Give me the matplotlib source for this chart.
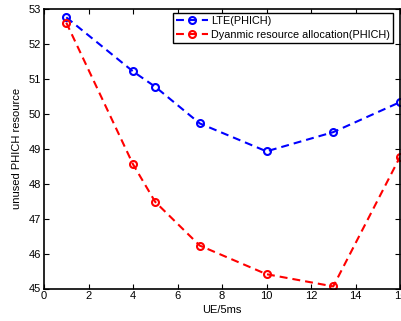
import matplotlib
matplotlib.use("Agg")
import matplotlib.pyplot as plt

x_ue = [1, 4, 5, 7, 10, 13, 16]
lte_phich = [52.77, 51.22, 50.78, 49.73, 48.93, 49.48, 50.34]
dyn_phich = [52.62, 48.56, 47.48, 46.23, 45.41, 45.06, 48.77]
x_ticks = [0, 2, 4, 6, 8, 10, 12, 14, 16]
y_ticks = [45, 46, 47, 48, 49, 50, 51, 52, 53]

plt.rcParams['font.family'] = ['Liberation Sans', 'DejaVu Sans']

fig = plt.figure(figsize=(4.01, 3.21), dpi=100)
ax = fig.add_axes([44/401, 32.5/321, 356/401, 279.2/321])

ax.plot(x_ue, lte_phich, color='#0000ff', linestyle=(0, (3.8, 2.4)), linewidth=1.5,
        marker='o', markersize=5, markerfacecolor='none', markeredgewidth=1.5,
        label='LTE(PHICH)')
ax.plot(x_ue, dyn_phich, color='#ff0000', linestyle=(0, (3.8, 2.4)), linewidth=1.5,
        marker='o', markersize=5, markerfacecolor='none', markeredgewidth=1.5,
        label='Dyanmic resource allocation(PHICH)')

ax.set_xlim(0, 16)
ax.set_ylim(45, 53)
ax.set_xticks(x_ticks)
ax.set_yticks(y_ticks)
ax.tick_params(direction='in', top=True, right=True, length=3.5, width=0.8,
               labelsize=8, pad=2)
for s in ax.spines.values():
    s.set_linewidth(1.2)

ax.set_xlabel('UE/5ms', fontsize=8, labelpad=3)
ax.set_ylabel('unused PHICH resource', fontsize=8, labelpad=5)

leg = ax.legend(loc='upper right', bbox_to_anchor=(393/401, 1 - 13/321),
                bbox_transform=fig.transFigure, fontsize=7.8, frameon=True,
                fancybox=False, framealpha=1, edgecolor='black',
                handlelength=3.0, handletextpad=0.3, borderpad=0.25,
                labelspacing=0.4, borderaxespad=0)
leg.get_frame().set_linewidth(1.0)

fig.savefig('out.png', dpi=100)
